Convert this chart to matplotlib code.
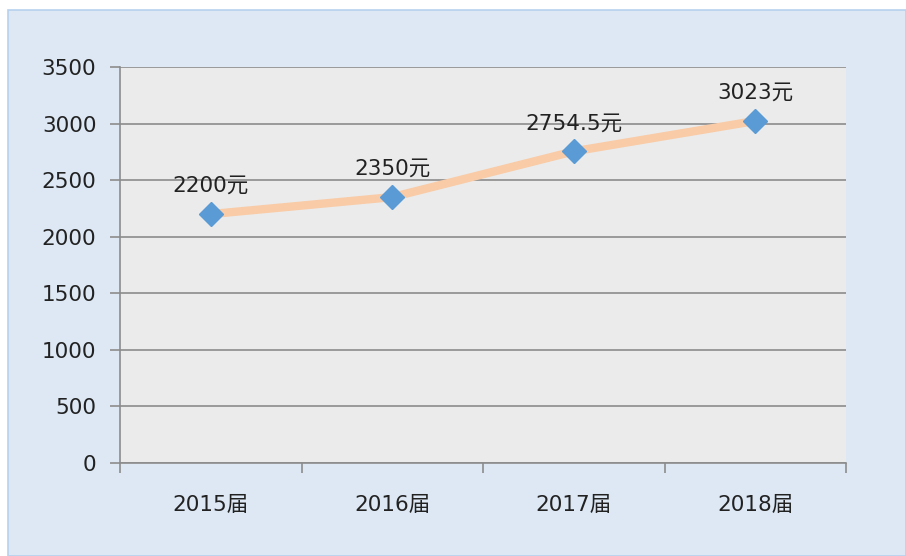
import matplotlib
matplotlib.use("Agg")
import matplotlib.pyplot as plt
from matplotlib.patches import Rectangle

# DejaVu for the (wide) digits, Noto CJK picks up 元 / 届
plt.rcParams['font.family'] = ['DejaVu Sans', 'Noto Sans CJK SC']

categories = ["2015届", "2016届", "2017届", "2018届"]
salary = [2200, 2350, 2754.5, 3023]
labels = ["2200元", "2350元", "2754.5元", "3023元"]
yticks = [0, 500, 1000, 1500, 2000, 2500, 3000, 3500]

W, H = 906, 556
fig = plt.figure(figsize=(W / 100, H / 100), dpi=100, facecolor="white")

# outer chart area (light blue box with thin border), kept under the axes
fig.patches.append(Rectangle((8 / W, 0), 1 - 8 / W, 1 - 10 / H, transform=fig.transFigure,
                             facecolor="#dde8f4", edgecolor="#b7d1ef", lw=1.2, zorder=-10))

ax = fig.add_axes([120 / W, 1 - 463 / H, 726 / W, 396 / H])
ax.set_facecolor("#ebebeb")

x = range(len(categories))
ax.plot(x, salary, color="#f9cba6", lw=6, solid_capstyle="butt", zorder=3)
ax.plot(x, salary, linestyle="none", marker="D", markersize=12,
        color="#5b9bd5", zorder=4)
for xi, v, lab in zip(x, salary, labels):
    ax.annotate(lab, (xi, v), xytext=(0, 13), textcoords="offset points",
                ha="center", va="bottom", fontsize=15.5, color="#222222")

ax.set_xlim(-0.5, len(categories) - 0.5)
ax.set_ylim(0, 3500)
ax.set_yticks(yticks)
ax.set_yticklabels([str(t) for t in yticks])
ax.yaxis.grid(True, color="#8c8c8c", lw=1.2)
ax.set_axisbelow(True)

ax.set_xticks(list(x))
ax.set_xticklabels(categories)
ax.set_xticks([i - 0.5 for i in range(len(categories) + 1)], minor=True)
ax.tick_params(axis="x", which="major", length=0, pad=23, labelsize=15.5, colors="#222222")
ax.tick_params(axis="x", which="minor", length=7, width=1.2, color="#8c8c8c", direction="out")
ax.tick_params(axis="y", length=7, width=1.2, color="#8c8c8c", pad=10, labelsize=15.5,
               labelcolor="#222222")

for s in ["top", "right"]:
    ax.spines[s].set_visible(False)
ax.spines["left"].set_color("#8c8c8c")
ax.spines["bottom"].set_color("#8c8c8c")
ax.spines["left"].set_linewidth(1.2)
ax.spines["bottom"].set_linewidth(1.2)

fig.savefig("out.png", dpi=100)
